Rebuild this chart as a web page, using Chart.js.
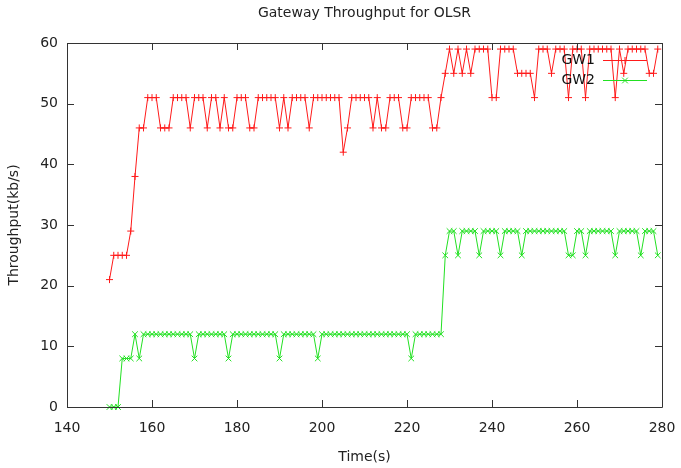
<!DOCTYPE html>
<html>
<head>
<meta charset="utf-8">
<title>Gateway Throughput for OLSR</title>
<script src="https://cdn.jsdelivr.net/npm/chart.js@4.4.1/dist/chart.umd.min.js"></script>
<style>
    html, body { margin: 0; padding: 0; background: #fff; }
    #wrap { width: 681px; height: 468px; }
</style>
</head>
<body>
<div id="wrap"><canvas id="throughputChart" width="681" height="468"></canvas></div>
<script>
// sample times (s), one per second
const times = [
    150, 151, 152, 153, 154, 155, 156, 157, 158, 159,
    160, 161, 162, 163, 164, 165, 166, 167, 168, 169,
    170, 171, 172, 173, 174, 175, 176, 177, 178, 179,
    180, 181, 182, 183, 184, 185, 186, 187, 188, 189,
    190, 191, 192, 193, 194, 195, 196, 197, 198, 199,
    200, 201, 202, 203, 204, 205, 206, 207, 208, 209,
    210, 211, 212, 213, 214, 215, 216, 217, 218, 219,
    220, 221, 222, 223, 224, 225, 226, 227, 228, 229,
    230, 231, 232, 233, 234, 235, 236, 237, 238, 239,
    240, 241, 242, 243, 244, 245, 246, 247, 248, 249,
    250, 251, 252, 253, 254, 255, 256, 257, 258, 259,
    260, 261, 262, 263, 264, 265, 266, 267, 268, 269,
    270, 271, 272, 273, 274, 275, 276, 277, 278, 279
];

const gw1 = [
    21, 25, 25, 25, 25, 29, 38, 46, 46, 51,
    51, 51, 46, 46, 46, 51, 51, 51, 51, 46,
    51, 51, 51, 46, 51, 51, 46, 51, 46, 46,
    51, 51, 51, 46, 46, 51, 51, 51, 51, 51,
    46, 51, 46, 51, 51, 51, 51, 46, 51, 51,
    51, 51, 51, 51, 51, 42, 46, 51, 51, 51,
    51, 51, 46, 51, 46, 46, 51, 51, 51, 46,
    46, 51, 51, 51, 51, 51, 46, 46, 51, 55,
    59, 55, 59, 55, 59, 55, 59, 59, 59, 59,
    51, 51, 59, 59, 59, 59, 55, 55, 55, 55,
    51, 59, 59, 59, 55, 59, 59, 59, 51, 59,
    59, 59, 51, 59, 59, 59, 59, 59, 59, 51,
    59, 55, 59, 59, 59, 59, 59, 55, 55, 59
];

const gw2 = [
    0, 0, 0, 8, 8, 8, 12, 8, 12, 12,
    12, 12, 12, 12, 12, 12, 12, 12, 12, 12,
    8, 12, 12, 12, 12, 12, 12, 12, 8, 12,
    12, 12, 12, 12, 12, 12, 12, 12, 12, 12,
    8, 12, 12, 12, 12, 12, 12, 12, 12, 8,
    12, 12, 12, 12, 12, 12, 12, 12, 12, 12,
    12, 12, 12, 12, 12, 12, 12, 12, 12, 12,
    12, 8, 12, 12, 12, 12, 12, 12, 12, 25,
    29, 29, 25, 29, 29, 29, 29, 25, 29, 29,
    29, 29, 25, 29, 29, 29, 29, 25, 29, 29,
    29, 29, 29, 29, 29, 29, 29, 29, 25, 25,
    29, 29, 25, 29, 29, 29, 29, 29, 29, 25,
    29, 29, 29, 29, 29, 25, 29, 29, 29, 25
];

const xTicks = [140, 160, 180, 200, 220, 240, 260, 280];
const yTicks = [0, 10, 20, 30, 40, 50, 60];

const FONT = 'DejaVu Sans';
const TITLE = 'Gateway Throughput for OLSR';

// gnuplot style frame with inward ticks on all four sides, title over the plot, key in the top right
const gnuplotFrame = {
    id: 'gnuplotFrame',
    afterDatasetsDraw(chart) {
        const { ctx, chartArea: a, scales } = chart;
        const len = 7;
        ctx.save();
        ctx.strokeStyle = '#333';
        ctx.lineWidth = 1;
        ctx.beginPath();
        ctx.rect(Math.round(a.left) + 0.5, Math.round(a.top) + 0.5,
                 Math.round(a.right - a.left), Math.round(a.bottom - a.top));
        xTicks.forEach(v => {
            const px = Math.round(scales.x.getPixelForValue(v)) + 0.5;
            ctx.moveTo(px, a.bottom);
            ctx.lineTo(px, a.bottom - len);
            ctx.moveTo(px, a.top);
            ctx.lineTo(px, a.top + len);
        });
        yTicks.forEach(v => {
            const py = Math.round(scales.y.getPixelForValue(v)) + 0.5;
            ctx.moveTo(a.left, py);
            ctx.lineTo(a.left + len, py);
            ctx.moveTo(a.right, py);
            ctx.lineTo(a.right - len, py);
        });
        ctx.stroke();

        ctx.font = '14px "' + FONT + '"';
        ctx.textBaseline = 'middle';

        // title, centred over the plot like gnuplot does
        ctx.fillStyle = '#222';
        ctx.textAlign = 'center';
        ctx.fillText(TITLE, (a.left + a.right) / 2, 13);

        // key
        ctx.textAlign = 'right';
        chart.data.datasets.forEach((ds, i) => {
            const y = a.top + 17 + i * 20;
            const x0 = a.right - 59, x1 = a.right - 15, xm = (x0 + x1) / 2;
            ctx.fillStyle = '#111';
            ctx.fillText(ds.label, a.right - 67, y);
            ctx.strokeStyle = ds.borderColor;
            ctx.beginPath();
            ctx.moveTo(x0, y + 0.5);
            ctx.lineTo(x1, y + 0.5);
            ctx.stroke();
            Chart.helpers.drawPoint(ctx, {
                pointStyle: ds.pointStyle,
                radius: ds.pointRadius,
                borderWidth: 1
            }, xm, y + 0.5);
        });
        ctx.restore();
    }
};

const ctx = document.getElementById('throughputChart').getContext('2d');

new Chart(ctx, {
    type: 'line',
    data: {
        datasets: [{
            label: 'GW1',
            data: times.map((t, i) => ({ x: t, y: gw1[i] })),
            borderColor: '#ff1a1a',
            backgroundColor: '#ff1a1a',
            borderWidth: 1,
            pointStyle: 'cross',
            pointRadius: 3.5,
            pointBorderWidth: 1,
            fill: false,
            tension: 0,
            clip: false
        }, {
            label: 'GW2',
            data: times.map((t, i) => ({ x: t, y: gw2[i] })),
            borderColor: '#22e022',
            backgroundColor: '#22e022',
            borderWidth: 1,
            pointStyle: 'crossRot',
            pointRadius: 4,
            pointBorderWidth: 1,
            fill: false,
            tension: 0,
            clip: false
        }]
    },
    options: {
        responsive: false,
        animation: false,
        events: [],
        layout: {
            padding: { top: 43, left: 0, right: 19, bottom: 0 }
        },
        plugins: {
            legend: { display: false },
            tooltip: { enabled: false },
            title: { display: false }
        },
        scales: {
            x: {
                type: 'linear',
                min: 140,
                max: 280,
                afterBuildTicks: scale => {
                    scale.ticks = xTicks.map(v => ({ value: v }));
                },
                afterFit: scale => {
                    scale.height = 61;
                    scale.paddingLeft = 0;
                    scale.paddingRight = 0;
                },
                grid: { display: false, drawTicks: false },
                border: { display: false },
                ticks: {
                    color: '#222',
                    padding: 13,
                    maxRotation: 0,
                    font: { family: FONT, size: 14 }
                },
                title: {
                    display: true,
                    text: 'Time(s)',
                    color: '#222',
                    font: { family: FONT, size: 14 },
                    padding: { top: 0, bottom: 2 }
                }
            },
            y: {
                min: 0,
                max: 60,
                afterBuildTicks: scale => {
                    scale.ticks = yTicks.map(v => ({ value: v }));
                },
                afterFit: scale => {
                    scale.width = 67;
                    scale.paddingTop = 0;
                    scale.paddingBottom = 0;
                },
                grid: { display: false, drawTicks: false },
                border: { display: false },
                ticks: {
                    color: '#222',
                    padding: 9,
                    font: { family: FONT, size: 14 }
                },
                title: {
                    display: true,
                    text: 'Throughput(kb/s)',
                    color: '#222',
                    font: { family: FONT, size: 14 },
                    padding: { top: 6, bottom: 0 }
                }
            }
        }
    },
    plugins: [gnuplotFrame]
});
</script>
</body>
</html>
